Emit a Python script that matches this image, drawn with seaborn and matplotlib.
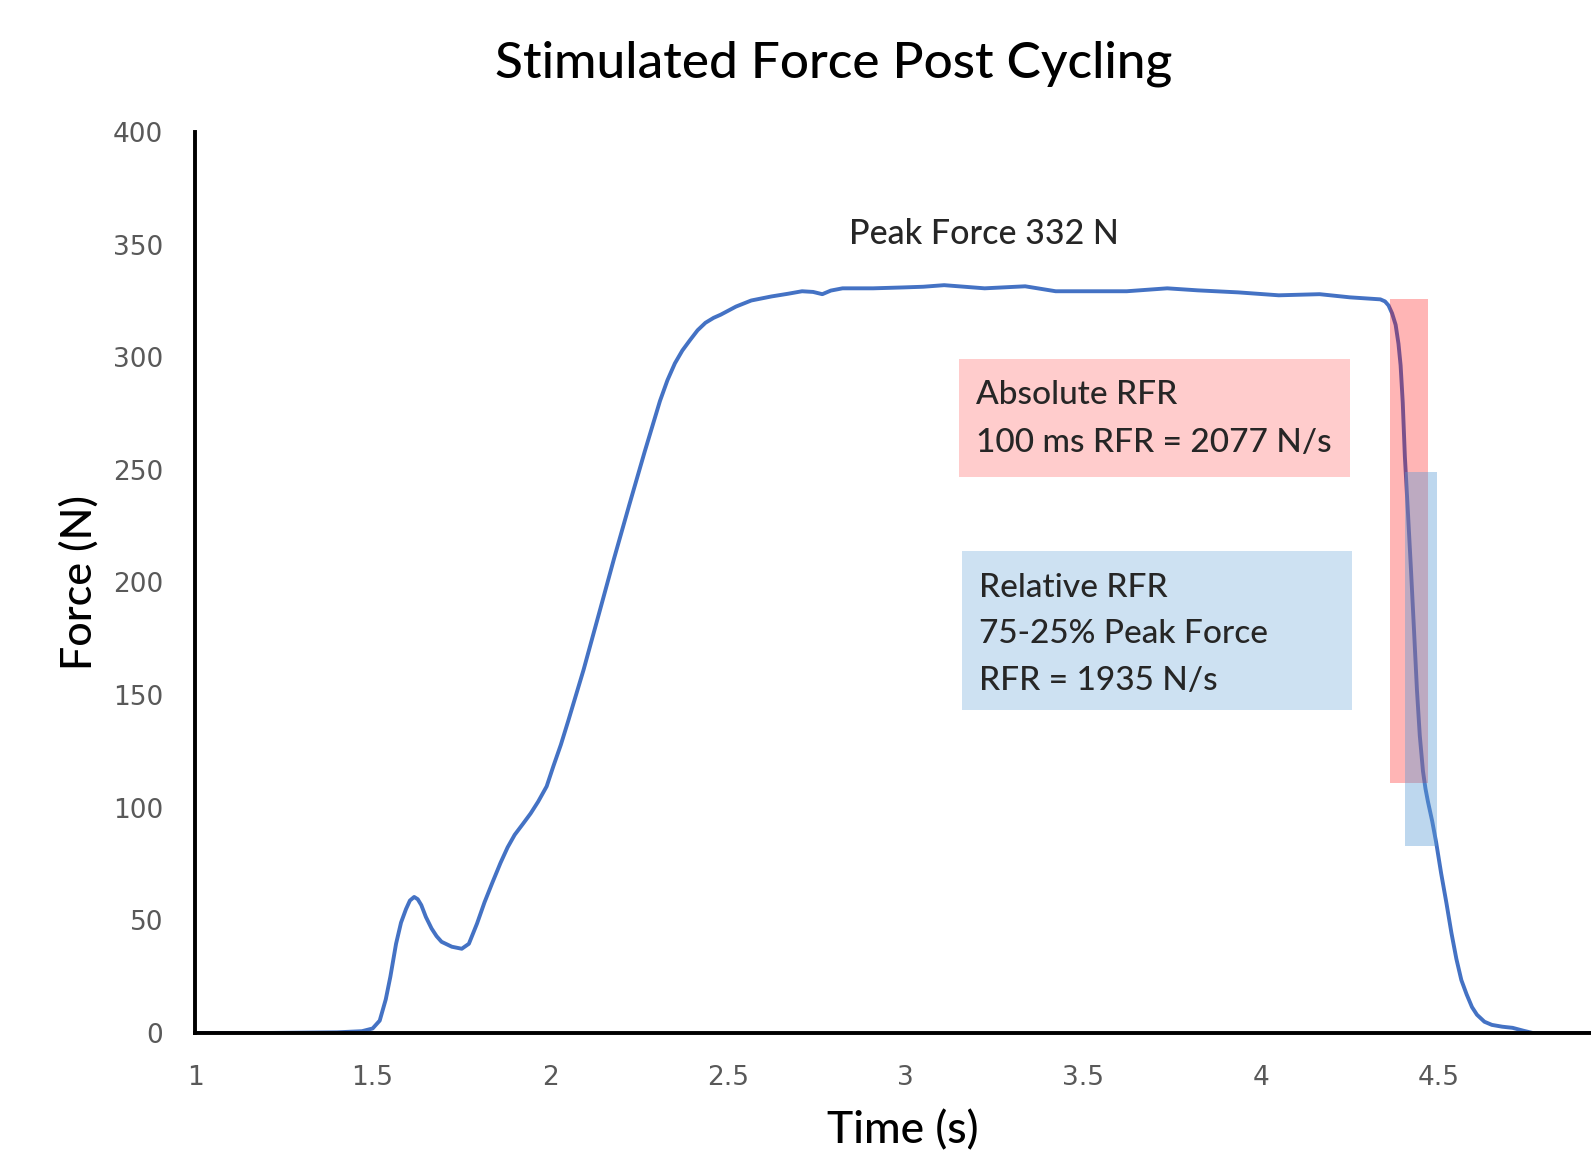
import matplotlib
matplotlib.use("Agg")
import matplotlib.pyplot as plt
import matplotlib.patches as mpatches
import seaborn as sns
import pandas as pd

# ---- data ----
time_s = [1.00, 1.20, 1.40, 1.47, 1.50, 1.52, 1.537, 1.55, 1.566, 1.58, 1.594, 1.605, 1.617,
          1.627, 1.637, 1.65, 1.666, 1.68, 1.694, 1.723, 1.751, 1.771, 1.794, 1.815, 1.837,
          1.86, 1.88, 1.90, 1.923, 1.945, 1.966, 1.99, 2.009, 2.03, 2.051, 2.094, 2.137,
          2.18, 2.223, 2.266, 2.309, 2.33, 2.351, 2.372, 2.394, 2.415, 2.437, 2.46, 2.48,
          2.523, 2.566, 2.623, 2.67, 2.709, 2.74, 2.766, 2.79, 2.823, 2.909, 2.994, 3.05,
          3.109, 3.223, 3.337, 3.423, 3.509, 3.623, 3.737, 3.823, 3.937, 4.051, 4.166,
          4.251, 4.337, 4.35, 4.36, 4.37, 4.38, 4.388, 4.394, 4.40, 4.406, 4.415, 4.423,
          4.432, 4.44, 4.448, 4.457, 4.464, 4.471, 4.483, 4.494, 4.508, 4.523, 4.537,
          4.551, 4.565, 4.58, 4.595, 4.609, 4.63, 4.651, 4.68, 4.709, 4.74, 4.766, 4.85, 4.93]
force_n = [0.0, 0.0, 0.3, 0.8, 2.0, 5.5, 14.9, 25.0, 39.6, 49.0, 55.0, 58.8, 60.4,
           59.4, 56.8, 51.5, 46.4, 43.0, 40.5, 38.3, 37.4, 39.6, 48.6, 58.0, 66.7,
           75.5, 82.4, 88.0, 92.8, 97.5, 102.7, 109.5, 118.5, 128.0, 138.7, 161.3, 186.0,
           210.8, 234.7, 258.1, 280.6, 289.8, 297.3, 303.0, 307.7, 312.0, 315.3, 317.5, 318.9,
           322.5, 325.2, 327.0, 328.2, 329.3, 329.0, 328.0, 329.6, 330.6, 330.6, 331.0, 331.3,
           332.0, 330.6, 331.5, 329.3, 329.3, 329.3, 330.6, 329.7, 328.8, 327.5, 328.0,
           326.6, 325.7, 324.8, 323.0, 319.5, 314.4, 306.0, 296.4, 280.0, 255.9, 230.0, 206.3,
           178.0, 152.3, 132.0, 116.2, 108.5, 102.7, 94.0, 84.7, 71.0, 57.7, 44.5,
           32.9, 23.5, 17.1, 11.5, 8.1, 5.0, 3.6, 2.8, 2.3, 1.0, 0.0, 0.0, 0.0]

peak_force = 332
abs_window = [4.363, 4.470]          # 100 ms window (s)
abs_force = [111, 326]               # force range over the window (N)
rel_window = [4.406, 4.496]          # 75 % -> 25 % of peak (s)
rel_fraction = [0.25, 0.75]

title = "Stimulated Force Post Cycling"
x_ticks = [1, 1.5, 2, 2.5, 3, 3.5, 4, 4.5]
x_tick_labels = ["1", "1.5", "2", "2.5", "3", "3.5", "4", "4.5"]
y_ticks = [0, 50, 100, 150, 200, 250, 300, 350, 400]

abs_text = "Absolute RFR\n100 ms RFR = 2077 N/s"
rel_text = "Relative RFR\n75-25% Peak Force\nRFR = 1935 N/s"
peak_text = "Peak Force 332 N"

# ---- style ----
sns.set_style("white")
plt.rcParams["font.family"] = ["Lato", "DejaVu Sans"]
W = "medium"

fig = plt.figure(figsize=(15.91, 11.60), dpi=100)
ax = fig.add_axes([195 / 1591, 1 - 1033 / 1160, 1 - 195 / 1591, (1033 - 132) / 1160])

df = pd.DataFrame({"Time (s)": time_s, "Force (N)": force_n})
sns.lineplot(data=df, x="Time (s)", y="Force (N)", ax=ax, color="#4472C4",
             linewidth=2.8, zorder=2, estimator=None, sort=False)

ax.set_xlim(1, 4.93)
ax.set_ylim(0, 400)
ax.set_xticks(x_ticks)
ax.set_xticklabels(x_tick_labels)
ax.set_yticks(y_ticks)

for s in ["top", "right"]:
    ax.spines[s].set_visible(False)
for s in ["left", "bottom"]:
    ax.spines[s].set_linewidth(2.8)
    ax.spines[s].set_color("black")
    ax.spines[s].set_zorder(5)

ax.tick_params(axis="both", direction="in", length=7, width=2.8, color="black",
               labelcolor="#595959", labelsize=19, pad=23)
for lab in ax.get_xticklabels() + ax.get_yticklabels():
    lab.set_fontfamily("DejaVu Sans")

ax.set_xlabel("Time (s)", fontsize=32, color="black", fontweight=W)
ax.set_ylabel("Force (N)", fontsize=31, color="black", fontweight=W)
ax.xaxis.label.set_va("center")
ax.yaxis.label.set_va("center")
ax.xaxis.set_label_coords((903 - 195) / 1396, (1033 - 1131) / 901)
ax.yaxis.set_label_coords((79 - 195) / 1396, (1033 - 583) / 901)

fig.text(834 / 1591, 1 - 64 / 1160, title, ha="center", va="center", fontsize=37,
         color="black", fontweight=W)

# annotation boxes
ax.add_patch(mpatches.Rectangle((3.152, 246.8), 4.251 - 3.152, 299.2 - 246.8,
                                facecolor="#FFCCCC", edgecolor="none", zorder=1))
ax.add_patch(mpatches.Rectangle((3.158, 143.4), 4.256 - 3.158, 214.0 - 143.4,
                                facecolor="#CDE1F2", edgecolor="none", zorder=1))
ax.text(3.2, 272.6, abs_text, ha="left", va="center", fontsize=24, linespacing=1.72,
        zorder=6, fontweight=W)
ax.text(3.208, 177.0, rel_text, ha="left", va="center", fontsize=24, linespacing=1.7,
        zorder=6, fontweight=W)
ax.text(3.222, 354.7, peak_text, ha="center", va="center", fontsize=24.5, zorder=6,
        fontweight=W)

# rate-of-force-relaxation bands
ax.add_patch(mpatches.Rectangle((abs_window[0], abs_force[0]), abs_window[1] - abs_window[0],
                                abs_force[1] - abs_force[0], facecolor="#FF0000", alpha=0.29,
                                edgecolor="none", zorder=3))
rel_lo = rel_fraction[0] * peak_force
rel_hi = rel_fraction[1] * peak_force
ax.add_patch(mpatches.Rectangle((rel_window[0], rel_lo), rel_window[1] - rel_window[0],
                                rel_hi - rel_lo, facecolor="#5B9BD5", alpha=0.4,
                                edgecolor="none", zorder=4))

fig.savefig("out.png", dpi=100)
